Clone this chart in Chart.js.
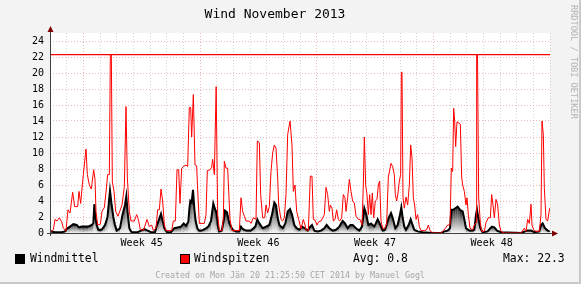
<!DOCTYPE html>
<html lang="de">
<head>
<meta charset="UTF-8">
<title>Wind November 2013</title>
<script src="https://cdn.jsdelivr.net/npm/chart.js@4.4.0/dist/chart.umd.min.js"></script>
<style>
	html, body { margin: 0; padding: 0; background: #f3f3f3; }
	#wrap { width: 581px; height: 284px; position: relative; }
</style>
</head>
<body>
<div id="wrap"><canvas id="wind" width="581" height="284"></canvas></div>
<script>
// x = Tage seit Beginn des Zeitraums (Achse 0..30), Werte in km/h

// Windspitzen (rote Linie)
const peakDays = [0.05,0.2,0.3,0.42,0.56,0.7,0.8,0.96,1.08,1.2,1.36,1.48,1.66,1.74,1.84,1.94,2.0,2.16,2.24,2.36,2.48,2.62,2.7,2.76,2.86,3.02,3.12,3.26,3.36,3.46,3.56,3.62,3.68,3.74,3.84,3.94,4.08,4.32,4.46,4.56,4.64,4.76,4.86,5.06,5.2,5.3,5.42,5.62,5.82,5.96,6.1,6.2,6.36,6.46,6.56,6.66,6.76,6.86,6.96,7.3,7.4,7.52,7.62,7.72,7.8,7.9,8.0,8.16,8.26,8.36,8.44,8.5,8.6,8.7,8.8,8.86,8.96,9.26,9.36,9.44,9.6,9.7,9.76,9.86,9.97,10.02,10.06,10.16,10.32,10.4,10.46,10.56,10.66,10.76,10.8,10.92,11.36,11.46,11.56,11.66,11.76,11.96,12.06,12.2,12.36,12.44,12.56,12.64,12.76,12.88,12.96,13.06,13.16,13.26,13.36,13.46,13.56,13.66,13.72,13.86,13.96,14.06,14.16,14.26,14.4,14.52,14.6,14.7,14.8,14.92,15.06,15.2,15.3,15.36,15.5,15.62,15.72,15.8,15.9,16.02,16.12,16.26,16.36,16.46,16.56,16.66,16.76,16.82,16.92,17.0,17.1,17.2,17.3,17.38,17.5,17.6,17.7,17.76,17.86,17.96,18.06,18.16,18.26,18.36,18.5,18.6,18.72,18.8,18.86,18.94,19.02,19.1,19.18,19.26,19.34,19.42,19.52,19.62,19.7,19.78,19.86,19.96,20.1,20.2,20.3,20.46,20.56,20.66,20.72,20.8,20.88,20.96,21.04,21.08,21.12,21.18,21.26,21.36,21.46,21.56,21.64,21.72,21.8,21.88,21.96,22.06,22.16,22.26,22.46,22.6,22.7,22.8,22.96,23.46,23.6,23.76,23.86,24.0,24.08,24.16,24.22,24.28,24.34,24.42,24.62,24.7,24.76,24.86,24.96,25.02,25.1,25.2,25.36,25.46,25.56,25.6,25.65,25.72,25.82,25.9,26.06,26.16,26.3,26.42,26.5,26.58,26.66,26.76,26.86,26.96,27.06,27.26,28.26,28.46,28.56,28.66,28.76,28.86,28.92,29.02,29.16,29.36,29.46,29.52,29.6,29.66,29.76,29.86,29.98];
const peakVals = [0.2,0.4,1.7,1.5,1.9,1.4,0.6,0.3,2.9,2.5,5.1,3.3,3.3,5.2,3.7,6.0,7.3,10.5,7.3,6.0,5.5,7.9,6.7,2.7,1.0,1.1,2.7,3.2,5.1,7.3,7.3,22.3,22.3,6.4,5.2,2.7,2.1,3.5,5.8,15.8,6.9,2.7,1.5,1.5,2.3,1.7,0.4,0.4,1.7,0.8,1.0,0.3,0.6,2.9,2.9,5.5,4.0,1.0,0.3,0.3,1.5,1.5,7.9,7.9,3.7,8.1,8.3,8.5,8.3,15.7,15.7,12.0,17.3,8.5,8.4,5.4,1.2,1.2,2.3,7.8,7.9,8.2,9.2,7.3,18.3,18.3,2.3,0.3,0.3,1.9,9.0,8.1,8.1,3.5,1.7,0.3,0.3,4.4,2.7,2.1,1.5,1.5,1.2,1.9,1.7,11.5,11.3,4.8,1.9,1.9,3.5,2.5,3.3,7.7,10.0,11.0,10.6,6.9,3.5,1.7,1.5,1.9,4.8,12.3,14.0,11.0,5.2,6.0,2.7,1.7,0.5,1.7,1.0,0.4,0.3,7.1,7.1,1.7,1.6,1.0,1.4,1.5,1.9,2.3,5.7,4.8,2.7,3.5,3.1,1.5,1.7,2.9,1.7,1.5,1.9,4.8,4.4,2.7,4.4,6.7,5.2,4.0,3.75,2.1,1.7,1.7,1.0,6.0,12.0,6.0,4.8,2.3,4.8,2.3,5.0,1.9,4.0,4.2,6.0,6.5,1.5,0.6,0.6,1.2,7.0,8.7,8.3,7.3,4.8,4.0,5.0,6.5,7.3,20.1,20.1,4.4,3.1,4.5,3.5,6.0,11.0,9.4,4.4,3.5,1.7,2.3,0.8,0.3,0.3,0.4,1.0,0.3,0.0,0.0,0.3,0.7,1.0,1.0,8.1,7.7,15.6,14.0,10.8,13.9,13.6,7.0,6.0,5.2,3.5,4.4,2.3,0.6,0.4,1.0,1.3,22.3,22.3,4.4,1.3,0.2,0.2,1.3,1.9,1.9,4.8,3.5,1.9,4.2,3.5,1.0,0.2,0.0,0.0,0.6,0.2,1.7,1.2,3.6,1.0,0.4,0.2,0.2,2.3,14.0,12.3,5.6,1.7,1.5,3.1];

// Windmittel (schwarze Flaeche)
const meanDays = [0.05,0.3,0.7,0.9,1.0,1.2,1.4,1.6,1.75,1.9,2.3,2.5,2.6,2.66,2.72,2.8,2.9,3.1,3.3,3.45,3.6,3.7,3.8,3.9,4.0,4.2,4.35,4.5,4.58,4.66,4.76,4.9,5.26,5.46,5.66,5.86,6.06,6.3,6.42,6.56,6.66,6.76,6.86,7.02,7.26,7.46,7.66,7.86,8.02,8.16,8.3,8.36,8.42,8.5,8.58,8.66,8.74,8.84,8.94,9.1,9.3,9.5,9.66,9.8,9.9,10.0,10.06,10.14,10.3,10.42,10.5,10.62,10.76,10.96,11.16,11.36,11.46,11.56,11.76,12.06,12.32,12.44,12.56,12.76,12.96,13.16,13.32,13.46,13.56,13.66,13.76,13.96,14.12,14.26,14.4,14.52,14.66,14.8,14.96,15.12,15.28,15.46,15.62,15.72,15.86,16.06,16.26,16.46,16.6,16.76,16.96,17.16,17.36,17.56,17.7,17.86,18.02,18.16,18.36,18.56,18.72,18.86,18.98,19.1,19.26,19.46,19.66,19.82,19.96,20.1,20.2,20.32,20.46,20.56,20.72,20.86,21.0,21.08,21.16,21.26,21.36,21.52,21.64,21.72,21.86,22.06,22.36,22.96,23.46,23.66,23.86,24.0,24.08,24.2,24.32,24.46,24.6,24.76,24.86,24.96,25.16,25.36,25.46,25.56,25.62,25.7,25.82,25.96,26.26,26.42,26.52,26.66,26.82,27.06,28.26,28.5,28.66,28.86,29.06,29.36,29.46,29.56,29.7,29.86,29.98];
const meanVals = [0.2,0.1,0.1,0.2,0.5,0.8,1.1,1.0,0.7,0.8,0.8,1.0,1.2,3.6,2.0,1.0,0.4,0.4,1.0,2.0,5.3,3.5,2.0,1.0,0.3,0.6,2.3,3.5,4.6,2.5,0.6,0.1,0.1,0.3,0.5,0.3,0.1,0.1,1.0,1.8,2.4,1.5,0.6,0.1,0.1,0.6,0.7,0.8,1.2,0.9,1.4,3.0,4.0,3.8,5.4,3.0,1.5,0.6,0.3,0.3,0.5,0.8,1.5,3.7,3.0,2.5,1.0,0.2,0.3,1.5,2.8,2.6,1.2,0.4,0.2,0.2,0.8,0.5,0.3,0.3,0.8,1.7,1.2,0.6,0.8,1.0,2.3,3.8,3.5,1.9,1.0,0.6,1.2,2.7,3.0,2.3,1.0,0.6,0.4,0.8,0.6,0.3,0.8,1.0,0.3,0.2,0.3,0.6,1.0,0.6,0.3,0.4,0.8,1.5,1.2,0.6,1.0,1.0,0.6,0.3,0.8,3.1,2.3,1.0,1.2,0.8,1.7,1.0,0.3,0.4,1.0,1.9,2.5,1.9,0.6,1.0,2.3,3.2,1.9,0.8,0.4,1.0,1.7,1.2,0.4,0.2,0.1,0.0,0.0,0.2,0.3,0.6,2.9,2.9,3.1,3.3,2.9,2.7,1.7,0.6,0.3,0.3,0.4,2.3,2.9,1.9,0.6,0.1,0.2,0.6,0.8,0.7,0.3,0.1,0.0,0.2,0.3,0.3,0.1,0.2,1.0,1.2,0.6,0.3,0.2];

const weekLabels = ['Week 45', 'Week 46', 'Week 47', 'Week 48'];
const weekMid = [5.5, 12.5, 19.5, 26.5];
const weekStart = [2, 9, 16, 23];
const avgValue = 0.8;
const maxValue = 22.3;

const MONO = "'DejaVu Sans Mono', monospace";
const GRID_MINOR = 'rgba(185,185,185,0.6)';
const GRID_MAJOR = 'rgba(220,140,140,0.6)';

// rrdtool look: canvas, gradient under Windmittel, axes with arrows, legend
const rrdLook = {
	id: 'rrdLook',
	beforeDraw(chart) {
		const {ctx, chartArea: a} = chart;
		ctx.save();
		ctx.fillStyle = '#f3f3f3';
		ctx.fillRect(0, 0, chart.width, chart.height);
		ctx.fillStyle = '#c9c9c9';
		ctx.fillRect(chart.width - 2, 0, 2, chart.height);
		ctx.fillRect(0, chart.height - 2, chart.width, 2);
		ctx.fillStyle = '#ffffff';
		ctx.fillRect(a.left, a.top, a.right - a.left, a.bottom - a.top);
		ctx.restore();
	},
	beforeDatasetDraw(chart, args) {
		if (args.index !== 0) return;
		const ctx = chart.ctx;
		const pts = args.meta.data;
		const base = chart.scales.y.getPixelForValue(0);
		ctx.save();
		for (let i = 0; i < pts.length - 1; i++) {
			const p = pts[i], q = pts[i + 1];
			const top = Math.min(p.y, q.y);
			if (base - top < 0.5) continue;
			const g = ctx.createLinearGradient(0, top, 0, base);
			g.addColorStop(0, 'rgba(0,0,0,0.9)');
			g.addColorStop(0.45, 'rgba(0,0,0,0.45)');
			g.addColorStop(1, 'rgba(0,0,0,0.03)');
			ctx.fillStyle = g;
			ctx.beginPath();
			ctx.moveTo(p.x, p.y);
			ctx.lineTo(q.x, q.y);
			ctx.lineTo(q.x, base);
			ctx.lineTo(p.x, base);
			ctx.closePath();
			ctx.fill();
		}
		ctx.restore();
	},
	afterDraw(chart) {
		const {ctx, chartArea: a} = chart;
		ctx.save();
		// axes
		ctx.strokeStyle = '#404040';
		ctx.lineWidth = 1;
		ctx.beginPath();
		ctx.moveTo(a.left + 0.5, a.bottom + 3);
		ctx.lineTo(a.left + 0.5, a.top - 3);
		ctx.moveTo(a.left - 3, a.bottom + 0.5);
		ctx.lineTo(a.right + 3, a.bottom + 0.5);
		ctx.stroke();
		ctx.fillStyle = '#7f0000';
		ctx.beginPath();
		ctx.moveTo(a.left + 0.5, a.top - 7);
		ctx.lineTo(a.left - 2.5, a.top - 1);
		ctx.lineTo(a.left + 3.5, a.top - 1);
		ctx.closePath();
		ctx.fill();
		ctx.beginPath();
		ctx.moveTo(a.right + 8, a.bottom + 0.5);
		ctx.lineTo(a.right + 2, a.bottom - 2.5);
		ctx.lineTo(a.right + 2, a.bottom + 3.5);
		ctx.closePath();
		ctx.fill();

		// legend
		const ly = 259;
		ctx.font = '11.4px ' + MONO;
		ctx.textBaseline = 'middle';
		ctx.fillStyle = '#000';
		ctx.fillRect(15, ly - 5, 10, 10);
		ctx.fillText('Windmittel', 30, ly);
		ctx.fillStyle = '#ff0000';
		ctx.fillRect(180, ly - 5, 10, 10);
		ctx.strokeStyle = '#000';
		ctx.strokeRect(180.5, ly - 4.5, 9, 9);
		ctx.fillStyle = '#000';
		ctx.fillText('Windspitzen', 194, ly);
		ctx.fillText('Avg: ' + avgValue.toFixed(1), 353, ly);
		ctx.fillText('Max: ' + maxValue.toFixed(1), 503, ly);

		// footer
		ctx.font = '8.3px ' + MONO;
		ctx.fillStyle = '#a6a6a6';
		ctx.textAlign = 'center';
		ctx.fillText('Created on Mon J\u00e4n 20 21:25:50 CET 2014 by Manuel Gogl', 290, 276);

		// credit, vertical
		ctx.translate(573, 5);
		ctx.rotate(Math.PI / 2);
		ctx.textAlign = 'left';
		ctx.fillStyle = '#b4b4b4';
		ctx.font = '8.6px ' + MONO;
		ctx.fillText('RRDTOOL / TOBI OETIKER', 0, 0);
		ctx.restore();
	}
};

const xy = (days, vals) => days.map((d, i) => ({x: d, y: vals[i]}));

new Chart(document.getElementById('wind'), {
	type: 'line',
	data: {
		datasets: [
			{
				label: 'Windmittel',
				data: xy(meanDays, meanVals),
				borderColor: '#000000',
				borderWidth: 2,
				pointRadius: 0,
				fill: false,
				tension: 0,
				order: 2
			},
			{
				label: 'Windspitzen',
				data: xy(peakDays, peakVals),
				borderColor: '#ff0000',
				borderWidth: 1,
				pointRadius: 0,
				fill: false,
				tension: 0,
				order: 1
			},
			{
				label: 'Max',
				data: [{x: 0, y: maxValue}, {x: 30, y: maxValue}],
				borderColor: '#ff0000',
				borderWidth: 1.3,
				pointRadius: 0,
				fill: false,
				order: 0
			}
		]
	},
	options: {
		responsive: false,
		animation: false,
		devicePixelRatio: 1,
		layout: { padding: { left: 0, right: 31, top: 0, bottom: 0 } },
		plugins: {
			legend: { display: false },
			tooltip: { enabled: false },
			title: {
				display: true,
				text: 'Wind November 2013',
				color: '#000',
				font: { family: MONO, size: 13, weight: 'normal', lineHeight: 1.2 },
				padding: { top: 7, bottom: 10.4 }
			}
		},
		scales: {
			x: {
				type: 'linear',
				min: 0,
				max: 30,
				afterBuildTicks(scale) {
					const t = [];
					for (let d = 0; d <= 30; d++) t.push({value: d});
					weekMid.forEach(v => t.push({value: v}));
					t.sort((p, q) => p.value - q.value);
					scale.ticks = t;
				},
				afterFit(scale) { scale.height = 51; },
				ticks: {
					autoSkip: false,
					maxRotation: 0,
					padding: 4,
					color: '#000',
					font: { family: MONO, size: 10 },
					callback(v) {
						const i = weekMid.indexOf(v);
						return i >= 0 ? weekLabels[i] : '';
					}
				},
				grid: {
					drawTicks: false,
					lineWidth: 1,
					color(c) {
						const v = c.tick ? c.tick.value : -1;
						if (v <= 0 || !Number.isInteger(v)) return 'rgba(0,0,0,0)';
						return weekStart.includes(v) ? GRID_MAJOR : GRID_MINOR;
					}
				},
				border: { display: false, dash: [1, 2] }
			},
			y: {
				min: 0,
				max: 25,
				afterFit(scale) { scale.width = 50; },
				ticks: {
					stepSize: 1,
					padding: 6,
					color: '#000',
					font: { family: MONO, size: 10 },
					callback(v) { return (v % 2 === 0 && v < 25) ? v : ''; }
				},
				grid: {
					drawTicks: false,
					lineWidth: 1,
					color(c) {
						const v = c.tick ? c.tick.value : -1;
						if (v <= 0) return 'rgba(0,0,0,0)';
						return v % 2 === 0 ? GRID_MAJOR : GRID_MINOR;
					}
				},
				border: { display: false, dash: [1, 2] }
			}
		}
	},
	plugins: [rrdLook]
});
</script>
</body>
</html>
